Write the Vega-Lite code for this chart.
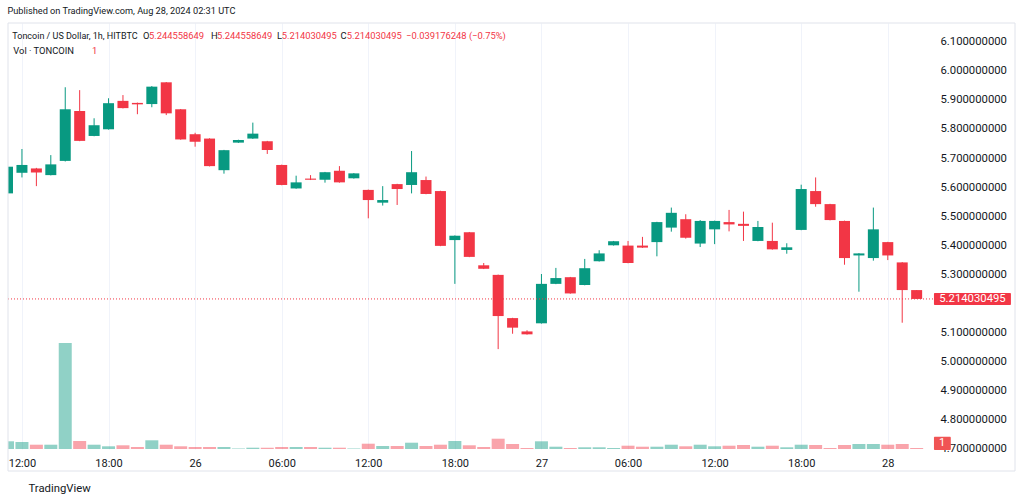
{
  "$schema": "https://vega.github.io/schema/vega-lite/v6.json",
  "width": 925,
  "height": 426,
  "autosize": {"type": "none"},
  "padding": {"left": 8, "top": 23, "right": 91, "bottom": 54},
  "background": "#ffffff",
  "title": {"text": "Published on TradingView.com, Aug 28, 2024 02:31 UTC", "anchor": "start", "fontSize": 9.2, "font": "Roboto", "fontWeight": "normal", "color": "#131722", "offset": 6},
  "config": {"view": {"stroke": null}, "font": "Roboto", "axis": {"labelOverlap": false}},
  "data": {"values": [
    {"t": "2024-08-25T11:00:00Z", "o": 5.578, "h": 5.676, "l": 5.575, "c": 5.670, "v": 7.7},
    {"t": "2024-08-25T12:00:00Z", "o": 5.649, "h": 5.731, "l": 5.633, "c": 5.676, "v": 7},
    {"t": "2024-08-25T13:00:00Z", "o": 5.664, "h": 5.666, "l": 5.603, "c": 5.650, "v": 4.3},
    {"t": "2024-08-25T14:00:00Z", "o": 5.641, "h": 5.710, "l": 5.640, "c": 5.678, "v": 4.3},
    {"t": "2024-08-25T15:00:00Z", "o": 5.690, "h": 5.944, "l": 5.688, "c": 5.868, "v": 106},
    {"t": "2024-08-25T16:00:00Z", "o": 5.862, "h": 5.934, "l": 5.758, "c": 5.759, "v": 8},
    {"t": "2024-08-25T17:00:00Z", "o": 5.776, "h": 5.837, "l": 5.775, "c": 5.813, "v": 4.3},
    {"t": "2024-08-25T18:00:00Z", "o": 5.799, "h": 5.906, "l": 5.798, "c": 5.889, "v": 2.7},
    {"t": "2024-08-25T19:00:00Z", "o": 5.897, "h": 5.917, "l": 5.871, "c": 5.872, "v": 3.7},
    {"t": "2024-08-25T20:00:00Z", "o": 5.890, "h": 5.891, "l": 5.851, "c": 5.885, "v": 2},
    {"t": "2024-08-25T21:00:00Z", "o": 5.886, "h": 5.948, "l": 5.875, "c": 5.946, "v": 8.7},
    {"t": "2024-08-25T22:00:00Z", "o": 5.961, "h": 5.962, "l": 5.848, "c": 5.854, "v": 4.3},
    {"t": "2024-08-25T23:00:00Z", "o": 5.868, "h": 5.869, "l": 5.763, "c": 5.764, "v": 2.7},
    {"t": "2024-08-26T00:00:00Z", "o": 5.782, "h": 5.787, "l": 5.739, "c": 5.756, "v": 2},
    {"t": "2024-08-26T01:00:00Z", "o": 5.767, "h": 5.768, "l": 5.671, "c": 5.672, "v": 2},
    {"t": "2024-08-26T02:00:00Z", "o": 5.658, "h": 5.728, "l": 5.646, "c": 5.727, "v": 2},
    {"t": "2024-08-26T03:00:00Z", "o": 5.753, "h": 5.763, "l": 5.752, "c": 5.762, "v": 0.5},
    {"t": "2024-08-26T04:00:00Z", "o": 5.767, "h": 5.822, "l": 5.766, "c": 5.784, "v": 1.3},
    {"t": "2024-08-26T05:00:00Z", "o": 5.758, "h": 5.759, "l": 5.714, "c": 5.728, "v": 1.3},
    {"t": "2024-08-26T06:00:00Z", "o": 5.676, "h": 5.677, "l": 5.606, "c": 5.607, "v": 2},
    {"t": "2024-08-26T07:00:00Z", "o": 5.595, "h": 5.639, "l": 5.594, "c": 5.616, "v": 2},
    {"t": "2024-08-26T08:00:00Z", "o": 5.629, "h": 5.641, "l": 5.624, "c": 5.625, "v": 2},
    {"t": "2024-08-26T09:00:00Z", "o": 5.625, "h": 5.652, "l": 5.615, "c": 5.651, "v": 1.3},
    {"t": "2024-08-26T10:00:00Z", "o": 5.656, "h": 5.672, "l": 5.615, "c": 5.616, "v": 1.3},
    {"t": "2024-08-26T11:00:00Z", "o": 5.630, "h": 5.648, "l": 5.629, "c": 5.647, "v": 0.5},
    {"t": "2024-08-26T12:00:00Z", "o": 5.590, "h": 5.591, "l": 5.492, "c": 5.555, "v": 5.3},
    {"t": "2024-08-26T13:00:00Z", "o": 5.546, "h": 5.603, "l": 5.536, "c": 5.555, "v": 3},
    {"t": "2024-08-26T14:00:00Z", "o": 5.610, "h": 5.611, "l": 5.538, "c": 5.593, "v": 3},
    {"t": "2024-08-26T15:00:00Z", "o": 5.607, "h": 5.724, "l": 5.578, "c": 5.651, "v": 6.3},
    {"t": "2024-08-26T16:00:00Z", "o": 5.624, "h": 5.636, "l": 5.575, "c": 5.576, "v": 3},
    {"t": "2024-08-26T17:00:00Z", "o": 5.586, "h": 5.587, "l": 5.396, "c": 5.397, "v": 4.3},
    {"t": "2024-08-26T18:00:00Z", "o": 5.417, "h": 5.433, "l": 5.266, "c": 5.432, "v": 8},
    {"t": "2024-08-26T19:00:00Z", "o": 5.444, "h": 5.445, "l": 5.358, "c": 5.359, "v": 3.7},
    {"t": "2024-08-26T20:00:00Z", "o": 5.330, "h": 5.338, "l": 5.317, "c": 5.318, "v": 2},
    {"t": "2024-08-26T21:00:00Z", "o": 5.297, "h": 5.298, "l": 5.041, "c": 5.155, "v": 10.3},
    {"t": "2024-08-26T22:00:00Z", "o": 5.148, "h": 5.149, "l": 5.094, "c": 5.115, "v": 5},
    {"t": "2024-08-26T23:00:00Z", "o": 5.102, "h": 5.106, "l": 5.091, "c": 5.092, "v": 1},
    {"t": "2024-08-27T00:00:00Z", "o": 5.130, "h": 5.300, "l": 5.129, "c": 5.266, "v": 7.7},
    {"t": "2024-08-27T01:00:00Z", "o": 5.266, "h": 5.321, "l": 5.265, "c": 5.286, "v": 2.3},
    {"t": "2024-08-27T02:00:00Z", "o": 5.289, "h": 5.290, "l": 5.232, "c": 5.233, "v": 1},
    {"t": "2024-08-27T03:00:00Z", "o": 5.262, "h": 5.352, "l": 5.261, "c": 5.320, "v": 1.7},
    {"t": "2024-08-27T04:00:00Z", "o": 5.344, "h": 5.382, "l": 5.343, "c": 5.371, "v": 1.7},
    {"t": "2024-08-27T05:00:00Z", "o": 5.399, "h": 5.414, "l": 5.398, "c": 5.413, "v": 1},
    {"t": "2024-08-27T06:00:00Z", "o": 5.398, "h": 5.414, "l": 5.337, "c": 5.338, "v": 3.3},
    {"t": "2024-08-27T07:00:00Z", "o": 5.398, "h": 5.428, "l": 5.390, "c": 5.391, "v": 2.3},
    {"t": "2024-08-27T08:00:00Z", "o": 5.410, "h": 5.480, "l": 5.361, "c": 5.479, "v": 2.3},
    {"t": "2024-08-27T09:00:00Z", "o": 5.460, "h": 5.529, "l": 5.446, "c": 5.511, "v": 4.3},
    {"t": "2024-08-27T10:00:00Z", "o": 5.489, "h": 5.506, "l": 5.422, "c": 5.425, "v": 2.7},
    {"t": "2024-08-27T11:00:00Z", "o": 5.405, "h": 5.486, "l": 5.393, "c": 5.483, "v": 4.3},
    {"t": "2024-08-27T12:00:00Z", "o": 5.454, "h": 5.484, "l": 5.403, "c": 5.483, "v": 2.7},
    {"t": "2024-08-27T13:00:00Z", "o": 5.479, "h": 5.521, "l": 5.447, "c": 5.471, "v": 3.3},
    {"t": "2024-08-27T14:00:00Z", "o": 5.473, "h": 5.515, "l": 5.414, "c": 5.466, "v": 4},
    {"t": "2024-08-27T15:00:00Z", "o": 5.414, "h": 5.483, "l": 5.413, "c": 5.462, "v": 2.3},
    {"t": "2024-08-27T16:00:00Z", "o": 5.414, "h": 5.477, "l": 5.384, "c": 5.385, "v": 3.3},
    {"t": "2024-08-27T17:00:00Z", "o": 5.383, "h": 5.406, "l": 5.370, "c": 5.392, "v": 1.7},
    {"t": "2024-08-27T18:00:00Z", "o": 5.452, "h": 5.608, "l": 5.451, "c": 5.593, "v": 4.3},
    {"t": "2024-08-27T19:00:00Z", "o": 5.586, "h": 5.633, "l": 5.532, "c": 5.541, "v": 4},
    {"t": "2024-08-27T20:00:00Z", "o": 5.541, "h": 5.542, "l": 5.485, "c": 5.486, "v": 1},
    {"t": "2024-08-27T21:00:00Z", "o": 5.483, "h": 5.484, "l": 5.332, "c": 5.355, "v": 4},
    {"t": "2024-08-27T22:00:00Z", "o": 5.364, "h": 5.372, "l": 5.239, "c": 5.371, "v": 5},
    {"t": "2024-08-27T23:00:00Z", "o": 5.355, "h": 5.529, "l": 5.346, "c": 5.454, "v": 5},
    {"t": "2024-08-28T00:00:00Z", "o": 5.410, "h": 5.411, "l": 5.348, "c": 5.364, "v": 4.3},
    {"t": "2024-08-28T01:00:00Z", "o": 5.340, "h": 5.341, "l": 5.132, "c": 5.2446, "v": 5},
    {"t": "2024-08-28T02:00:00Z", "o": 5.244558649, "h": 5.244558649, "l": 5.214030495, "c": 5.214030495, "v": 1}
  ]},
  "resolve": {"scale": {"y": "independent"}},
  "layer": [
    {
      "mark": {"type": "bar", "size": 13, "clip": true, "opacity": 0.45},
      "encoding": {
        "x": {
          "field": "t", "type": "temporal",
          "scale": {"type": "utc", "padding": 0, "domain": [
            {"year": 2024, "month": 8, "date": 25, "hours": 11, "minutes": 2, "utc": true},
            {"year": 2024, "month": 8, "date": 28, "hours": 3, "minutes": 8, "utc": true}
          ]},
          "axis": {
            "values": [
              {"year": 2024, "month": 8, "date": 25, "hours": 12, "utc": true},
              {"year": 2024, "month": 8, "date": 25, "hours": 18, "utc": true},
              {"year": 2024, "month": 8, "date": 26, "hours": 0, "utc": true},
              {"year": 2024, "month": 8, "date": 26, "hours": 6, "utc": true},
              {"year": 2024, "month": 8, "date": 26, "hours": 12, "utc": true},
              {"year": 2024, "month": 8, "date": 26, "hours": 18, "utc": true},
              {"year": 2024, "month": 8, "date": 27, "hours": 0, "utc": true},
              {"year": 2024, "month": 8, "date": 27, "hours": 6, "utc": true},
              {"year": 2024, "month": 8, "date": 27, "hours": 12, "utc": true},
              {"year": 2024, "month": 8, "date": 27, "hours": 18, "utc": true},
              {"year": 2024, "month": 8, "date": 28, "hours": 0, "utc": true}
            ],
            "tickCount": 30,
            "labelExpr": "utchours(datum.value) == 0 ? utcFormat(datum.value, '%-d') : utcFormat(datum.value, '%H:%M')",
            "title": "TradingView",
            "titleAnchor": "start",
            "titleAlign": "left",
            "titleX": 20,
            "titlePadding": 14,
            "titleFontSize": 11.3,
            "titleFontWeight": "normal",
            "titleColor": "#131722",
            "grid": true,
            "gridColor": "#F0F3FA",
            "ticks": false,
            "domain": false,
            "labelFontSize": 11,
            "labelColor": "#131722",
            "labelPadding": 8,
            "labelFlush": false,
            "labelOverlap": false,
            "zindex": 0
          }
        },
        "y": {"field": "v", "type": "quantitative", "scale": {"domain": [0, 426], "nice": false, "padding": 0}, "axis": null},
        "color": {"condition": {"test": "datum.c >= datum.o", "value": "#089981"}, "value": "#F23645"}
      }
    },
    {
      "layer": [
        {
          "mark": {"type": "rule", "strokeWidth": 1, "clip": true},
          "encoding": {
            "x": {"field": "t", "type": "temporal"},
            "y": {
              "field": "l", "type": "quantitative", "title": null,
              "scale": {"domain": [4.6966, 6.1655], "nice": false, "zero": false, "padding": 0},
              "axis": {
                "orient": "right",
                "values": [4.7, 4.8, 4.9, 5.0, 5.1, 5.3, 5.4, 5.5, 5.6, 5.7, 5.8, 5.9, 6.0, 6.1],
                "tickCount": 30,
                "format": ".9f",
                "ticks": false,
                "domain": false,
                "labelPadding": 7,
                "labelFontSize": 11.3,
                "labelColor": "#131722",
                "gridColor": "#F0F3FA",
                "labelFlush": false,
                "labelOverlap": false,
                "zindex": 0
              }
            },
            "y2": {"field": "h"},
            "color": {"condition": {"test": "datum.c >= datum.o", "value": "#089981"}, "value": "#F23645"}
          }
        },
        {
          "mark": {"type": "bar", "size": 11, "clip": true},
          "encoding": {
            "x": {"field": "t", "type": "temporal"},
            "y": {"field": "o", "type": "quantitative", "title": null},
            "y2": {"field": "c"},
            "color": {"condition": {"test": "datum.c >= datum.o", "value": "#089981"}, "value": "#F23645"}
          }
        },
        {
          "data": {"values": [{}]},
          "layer": [
            {
              "mark": {"type": "rule", "strokeDash": [1, 2], "color": "#F23645", "strokeWidth": 1},
              "encoding": {"y": {"datum": 5.214030495, "type": "quantitative"}}
            },
            {
              "mark": {"type": "rect", "color": "#F23645", "clip": false, "cornerRadius": 1},
              "encoding": {
                "x": {"datum": {"year": 2024, "month": 8, "date": 28, "hours": 3, "minutes": 12, "utc": true}, "type": "temporal"},
                "x2": {"datum": {"year": 2024, "month": 8, "date": 28, "hours": 8, "minutes": 32, "utc": true}},
                "y": {"datum": 5.2347, "type": "quantitative"},
                "y2": {"datum": 5.1933}
              }
            },
            {
              "mark": {"type": "text", "color": "#ffffff", "fontSize": 11.3, "align": "center", "baseline": "middle", "clip": false, "text": "5.214030495"},
              "encoding": {
                "x": {"datum": {"year": 2024, "month": 8, "date": 28, "hours": 5, "minutes": 52, "utc": true}, "type": "temporal"},
                "y": {"datum": 5.214030495, "type": "quantitative"}
              }
            },
            {
              "mark": {"type": "rect", "color": "#F05454", "clip": false, "cornerRadius": 1},
              "encoding": {
                "x": {"datum": {"year": 2024, "month": 8, "date": 28, "hours": 3, "minutes": 12, "utc": true}, "type": "temporal"},
                "x2": {"datum": {"year": 2024, "month": 8, "date": 28, "hours": 4, "minutes": 22, "utc": true}},
                "y": {"datum": 4.739, "type": "quantitative"},
                "y2": {"datum": 4.6931}
              }
            },
            {
              "mark": {"type": "text", "color": "#ffffff", "fontSize": 11, "align": "center", "baseline": "middle", "clip": false, "text": "1"},
              "encoding": {
                "x": {"datum": {"year": 2024, "month": 8, "date": 28, "hours": 3, "minutes": 46, "utc": true}, "type": "temporal"},
                "y": {"datum": 4.7172, "type": "quantitative"}
              }
            },
            {
              "mark": {"type": "rect", "fillOpacity": 0, "stroke": "#E0E3EB", "strokeWidth": 1, "clip": false},
              "encoding": {
                "x": {"datum": {"year": 2024, "month": 8, "date": 25, "hours": 11, "minutes": 2, "utc": true}, "type": "temporal"},
                "x2": {"datum": {"year": 2024, "month": 8, "date": 28, "hours": 8, "minutes": 49, "utc": true}},
                "y": {"datum": 6.1655, "type": "quantitative"},
                "y2": {"datum": 4.6207}
              }
            },
            {
              "mark": {"type": "text", "color": "#131722", "fontSize": 9, "align": "left", "baseline": "middle", "text": "Toncoin / US Dollar, 1h, HITBTC"},
              "encoding": {
                "x": {"datum": {"year": 2024, "month": 8, "date": 25, "hours": 11, "minutes": 20, "utc": true}, "type": "temporal"},
                "y": {"datum": 6.1217, "type": "quantitative"}
              }
            },
            {
              "mark": {"type": "text", "color": "#131722", "fontSize": 9.4, "align": "left", "baseline": "middle", "text": "O"},
              "encoding": {
                "x": {"datum": {"year": 2024, "month": 8, "date": 25, "hours": 20, "minutes": 23, "utc": true}, "type": "temporal"},
                "y": {"datum": 6.1217, "type": "quantitative"}
              }
            },
            {
              "mark": {"type": "text", "color": "#F23645", "fontSize": 9.4, "align": "left", "baseline": "middle", "text": "5.244558649"},
              "encoding": {
                "x": {"datum": {"year": 2024, "month": 8, "date": 25, "hours": 20, "minutes": 48, "utc": true}, "type": "temporal"},
                "y": {"datum": 6.1217, "type": "quantitative"}
              }
            },
            {
              "mark": {"type": "text", "color": "#131722", "fontSize": 9.4, "align": "left", "baseline": "middle", "text": "H"},
              "encoding": {
                "x": {"datum": {"year": 2024, "month": 8, "date": 26, "hours": 1, "minutes": 6, "utc": true}, "type": "temporal"},
                "y": {"datum": 6.1217, "type": "quantitative"}
              }
            },
            {
              "mark": {"type": "text", "color": "#F23645", "fontSize": 9.4, "align": "left", "baseline": "middle", "text": "5.244558649"},
              "encoding": {
                "x": {"datum": {"year": 2024, "month": 8, "date": 26, "hours": 1, "minutes": 31, "utc": true}, "type": "temporal"},
                "y": {"datum": 6.1217, "type": "quantitative"}
              }
            },
            {
              "mark": {"type": "text", "color": "#131722", "fontSize": 9.4, "align": "left", "baseline": "middle", "text": "L"},
              "encoding": {
                "x": {"datum": {"year": 2024, "month": 8, "date": 26, "hours": 5, "minutes": 40, "utc": true}, "type": "temporal"},
                "y": {"datum": 6.1217, "type": "quantitative"}
              }
            },
            {
              "mark": {"type": "text", "color": "#F23645", "fontSize": 9.4, "align": "left", "baseline": "middle", "text": "5.214030495"},
              "encoding": {
                "x": {"datum": {"year": 2024, "month": 8, "date": 26, "hours": 6, "minutes": 0, "utc": true}, "type": "temporal"},
                "y": {"datum": 6.1217, "type": "quantitative"}
              }
            },
            {
              "mark": {"type": "text", "color": "#131722", "fontSize": 9.4, "align": "left", "baseline": "middle", "text": "C"},
              "encoding": {
                "x": {"datum": {"year": 2024, "month": 8, "date": 26, "hours": 10, "minutes": 5, "utc": true}, "type": "temporal"},
                "y": {"datum": 6.1217, "type": "quantitative"}
              }
            },
            {
              "mark": {"type": "text", "color": "#F23645", "fontSize": 9.4, "align": "left", "baseline": "middle", "text": "5.214030495"},
              "encoding": {
                "x": {"datum": {"year": 2024, "month": 8, "date": 26, "hours": 10, "minutes": 30, "utc": true}, "type": "temporal"},
                "y": {"datum": 6.1217, "type": "quantitative"}
              }
            },
            {
              "mark": {"type": "text", "color": "#F23645", "fontSize": 9.4, "align": "left", "baseline": "middle", "text": "−0.039176248 (−0.75%)"},
              "encoding": {
                "x": {"datum": {"year": 2024, "month": 8, "date": 26, "hours": 14, "minutes": 37, "utc": true}, "type": "temporal"},
                "y": {"datum": 6.1217, "type": "quantitative"}
              }
            },
            {
              "mark": {"type": "text", "color": "#131722", "fontSize": 9.4, "align": "left", "baseline": "middle", "text": "Vol · TONCOIN"},
              "encoding": {
                "x": {"datum": {"year": 2024, "month": 8, "date": 25, "hours": 11, "minutes": 24, "utc": true}, "type": "temporal"},
                "y": {"datum": 6.0705, "type": "quantitative"}
              }
            },
            {
              "mark": {"type": "text", "color": "#F23645", "fontSize": 9.4, "align": "left", "baseline": "middle", "text": "1"},
              "encoding": {
                "x": {"datum": {"year": 2024, "month": 8, "date": 25, "hours": 16, "minutes": 51, "utc": true}, "type": "temporal"},
                "y": {"datum": 6.0705, "type": "quantitative"}
              }
            }
          ]
        }
      ]
    }
  ]
}
